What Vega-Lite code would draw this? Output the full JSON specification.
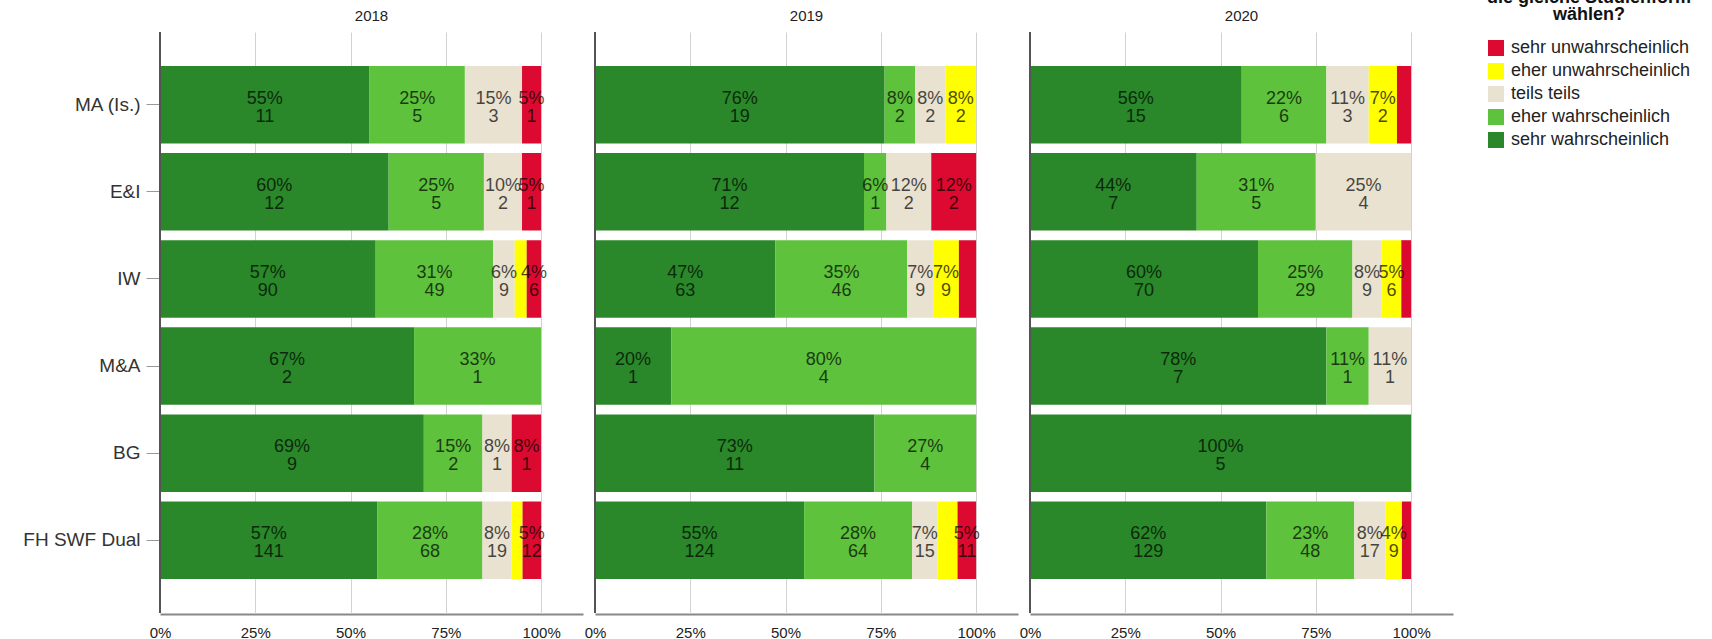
{
  "$schema": "https://vega.github.io/schema/vega-lite/v6.json",
  "autosize": {"type": "pad"},
  "padding": {"left": 22, "top": -11, "right": 0, "bottom": 0},
  "config": {
    "font": "Liberation Sans",
    "view": {"stroke": null}
  },
  "data": {"values": [
    {"y": "2018", "p": "MA (Is.)", "r": "sehr wahrscheinlich", "c": 1, "n": 11, "pct": "55%"},
    {"y": "2018", "p": "MA (Is.)", "r": "eher wahrscheinlich", "c": 2, "n": 5, "pct": "25%"},
    {"y": "2018", "p": "MA (Is.)", "r": "teils teils", "c": 3, "n": 3, "pct": "15%"},
    {"y": "2018", "p": "MA (Is.)", "r": "sehr unwahrscheinlich", "c": 5, "n": 1, "pct": "5%"},
    {"y": "2018", "p": "E&I", "r": "sehr wahrscheinlich", "c": 1, "n": 12, "pct": "60%"},
    {"y": "2018", "p": "E&I", "r": "eher wahrscheinlich", "c": 2, "n": 5, "pct": "25%"},
    {"y": "2018", "p": "E&I", "r": "teils teils", "c": 3, "n": 2, "pct": "10%"},
    {"y": "2018", "p": "E&I", "r": "sehr unwahrscheinlich", "c": 5, "n": 1, "pct": "5%"},
    {"y": "2018", "p": "IW", "r": "sehr wahrscheinlich", "c": 1, "n": 90, "pct": "57%"},
    {"y": "2018", "p": "IW", "r": "eher wahrscheinlich", "c": 2, "n": 49, "pct": "31%"},
    {"y": "2018", "p": "IW", "r": "teils teils", "c": 3, "n": 9, "pct": "6%"},
    {"y": "2018", "p": "IW", "r": "eher unwahrscheinlich", "c": 4, "n": 5, "pct": null},
    {"y": "2018", "p": "IW", "r": "sehr unwahrscheinlich", "c": 5, "n": 6, "pct": "4%"},
    {"y": "2018", "p": "M&A", "r": "sehr wahrscheinlich", "c": 1, "n": 2, "pct": "67%"},
    {"y": "2018", "p": "M&A", "r": "eher wahrscheinlich", "c": 2, "n": 1, "pct": "33%"},
    {"y": "2018", "p": "BG", "r": "sehr wahrscheinlich", "c": 1, "n": 9, "pct": "69%"},
    {"y": "2018", "p": "BG", "r": "eher wahrscheinlich", "c": 2, "n": 2, "pct": "15%"},
    {"y": "2018", "p": "BG", "r": "teils teils", "c": 3, "n": 1, "pct": "8%"},
    {"y": "2018", "p": "BG", "r": "sehr unwahrscheinlich", "c": 5, "n": 1, "pct": "8%"},
    {"y": "2018", "p": "FH SWF Dual", "r": "sehr wahrscheinlich", "c": 1, "n": 141, "pct": "57%"},
    {"y": "2018", "p": "FH SWF Dual", "r": "eher wahrscheinlich", "c": 2, "n": 68, "pct": "28%"},
    {"y": "2018", "p": "FH SWF Dual", "r": "teils teils", "c": 3, "n": 19, "pct": "8%"},
    {"y": "2018", "p": "FH SWF Dual", "r": "eher unwahrscheinlich", "c": 4, "n": 7, "pct": null},
    {"y": "2018", "p": "FH SWF Dual", "r": "sehr unwahrscheinlich", "c": 5, "n": 12, "pct": "5%"},

    {"y": "2019", "p": "MA (Is.)", "r": "sehr wahrscheinlich", "c": 1, "n": 19, "pct": "76%"},
    {"y": "2019", "p": "MA (Is.)", "r": "eher wahrscheinlich", "c": 2, "n": 2, "pct": "8%"},
    {"y": "2019", "p": "MA (Is.)", "r": "teils teils", "c": 3, "n": 2, "pct": "8%"},
    {"y": "2019", "p": "MA (Is.)", "r": "eher unwahrscheinlich", "c": 4, "n": 2, "pct": "8%"},
    {"y": "2019", "p": "E&I", "r": "sehr wahrscheinlich", "c": 1, "n": 12, "pct": "71%"},
    {"y": "2019", "p": "E&I", "r": "eher wahrscheinlich", "c": 2, "n": 1, "pct": "6%"},
    {"y": "2019", "p": "E&I", "r": "teils teils", "c": 3, "n": 2, "pct": "12%"},
    {"y": "2019", "p": "E&I", "r": "sehr unwahrscheinlich", "c": 5, "n": 2, "pct": "12%"},
    {"y": "2019", "p": "IW", "r": "sehr wahrscheinlich", "c": 1, "n": 63, "pct": "47%"},
    {"y": "2019", "p": "IW", "r": "eher wahrscheinlich", "c": 2, "n": 46, "pct": "35%"},
    {"y": "2019", "p": "IW", "r": "teils teils", "c": 3, "n": 9, "pct": "7%"},
    {"y": "2019", "p": "IW", "r": "eher unwahrscheinlich", "c": 4, "n": 9, "pct": "7%"},
    {"y": "2019", "p": "IW", "r": "sehr unwahrscheinlich", "c": 5, "n": 6, "pct": null},
    {"y": "2019", "p": "M&A", "r": "sehr wahrscheinlich", "c": 1, "n": 1, "pct": "20%"},
    {"y": "2019", "p": "M&A", "r": "eher wahrscheinlich", "c": 2, "n": 4, "pct": "80%"},
    {"y": "2019", "p": "BG", "r": "sehr wahrscheinlich", "c": 1, "n": 11, "pct": "73%"},
    {"y": "2019", "p": "BG", "r": "eher wahrscheinlich", "c": 2, "n": 4, "pct": "27%"},
    {"y": "2019", "p": "FH SWF Dual", "r": "sehr wahrscheinlich", "c": 1, "n": 124, "pct": "55%"},
    {"y": "2019", "p": "FH SWF Dual", "r": "eher wahrscheinlich", "c": 2, "n": 64, "pct": "28%"},
    {"y": "2019", "p": "FH SWF Dual", "r": "teils teils", "c": 3, "n": 15, "pct": "7%"},
    {"y": "2019", "p": "FH SWF Dual", "r": "eher unwahrscheinlich", "c": 4, "n": 12, "pct": null},
    {"y": "2019", "p": "FH SWF Dual", "r": "sehr unwahrscheinlich", "c": 5, "n": 11, "pct": "5%"},

    {"y": "2020", "p": "MA (Is.)", "r": "sehr wahrscheinlich", "c": 1, "n": 15, "pct": "56%"},
    {"y": "2020", "p": "MA (Is.)", "r": "eher wahrscheinlich", "c": 2, "n": 6, "pct": "22%"},
    {"y": "2020", "p": "MA (Is.)", "r": "teils teils", "c": 3, "n": 3, "pct": "11%"},
    {"y": "2020", "p": "MA (Is.)", "r": "eher unwahrscheinlich", "c": 4, "n": 2, "pct": "7%"},
    {"y": "2020", "p": "MA (Is.)", "r": "sehr unwahrscheinlich", "c": 5, "n": 1, "pct": null},
    {"y": "2020", "p": "E&I", "r": "sehr wahrscheinlich", "c": 1, "n": 7, "pct": "44%"},
    {"y": "2020", "p": "E&I", "r": "eher wahrscheinlich", "c": 2, "n": 5, "pct": "31%"},
    {"y": "2020", "p": "E&I", "r": "teils teils", "c": 3, "n": 4, "pct": "25%"},
    {"y": "2020", "p": "IW", "r": "sehr wahrscheinlich", "c": 1, "n": 70, "pct": "60%"},
    {"y": "2020", "p": "IW", "r": "eher wahrscheinlich", "c": 2, "n": 29, "pct": "25%"},
    {"y": "2020", "p": "IW", "r": "teils teils", "c": 3, "n": 9, "pct": "8%"},
    {"y": "2020", "p": "IW", "r": "eher unwahrscheinlich", "c": 4, "n": 6, "pct": "5%"},
    {"y": "2020", "p": "IW", "r": "sehr unwahrscheinlich", "c": 5, "n": 3, "pct": null},
    {"y": "2020", "p": "M&A", "r": "sehr wahrscheinlich", "c": 1, "n": 7, "pct": "78%"},
    {"y": "2020", "p": "M&A", "r": "eher wahrscheinlich", "c": 2, "n": 1, "pct": "11%"},
    {"y": "2020", "p": "M&A", "r": "teils teils", "c": 3, "n": 1, "pct": "11%"},
    {"y": "2020", "p": "BG", "r": "sehr wahrscheinlich", "c": 1, "n": 5, "pct": "100%"},
    {"y": "2020", "p": "FH SWF Dual", "r": "sehr wahrscheinlich", "c": 1, "n": 129, "pct": "62%"},
    {"y": "2020", "p": "FH SWF Dual", "r": "eher wahrscheinlich", "c": 2, "n": 48, "pct": "23%"},
    {"y": "2020", "p": "FH SWF Dual", "r": "teils teils", "c": 3, "n": 17, "pct": "8%"},
    {"y": "2020", "p": "FH SWF Dual", "r": "eher unwahrscheinlich", "c": 4, "n": 9, "pct": "4%"},
    {"y": "2020", "p": "FH SWF Dual", "r": "sehr unwahrscheinlich", "c": 5, "n": 5, "pct": null}
  ]},
  "facet": {
    "column": {
      "field": "y", "type": "ordinal", "title": null,
      "header": {"labelFontSize": 15, "labelColor": "#222", "labelFont": "Liberation Sans", "labelPadding": 7}
    }
  },
  "spacing": {"column": 11},
  "spec": {
    "width": 423,
    "height": 581,
    "layer": [
      {
        "mark": {"type": "bar"},
        "encoding": {
          "y": {
            "field": "p", "type": "nominal",
            "sort": ["MA (Is.)", "E&I", "IW", "M&A", "BG", "FH SWF Dual"],
            "scale": {"paddingInner": 0.11, "paddingOuter": 0.39},
            "axis": {"title": null, "labelFontSize": 19, "labelColor": "#333", "tickSize": 13, "tickColor": "#999", "labelPadding": 6, "domain": false, "labelLimit": 300}
          },
          "x": {
            "field": "n", "type": "quantitative", "stack": "normalize",
            "scale": {"domain": [0, 1.11], "nice": false},
            "axis": {"title": null, "values": [0, 0.25, 0.5, 0.75, 1], "format": ".0%", "grid": true, "gridColor": "#d2d2d2", "ticks": false, "labelFontSize": 15, "labelColor": "#222", "domainColor": "#888", "domainWidth": 2, "labelPadding": 11, "labelFlush": false}
          },
          "color": {
            "field": "r", "type": "nominal",
            "scale": {
              "domain": ["sehr unwahrscheinlich", "eher unwahrscheinlich", "teils teils", "eher wahrscheinlich", "sehr wahrscheinlich"],
              "range": ["#dc0a30", "#ffff00", "#e9e2d0", "#5ec23c", "#2a882a"]
            },
            "legend": {
              "orient": "none", "legendX": 1327, "legendY": -43,
              "title": ["die gleiche Studienform", "wählen?"],
              "titleFontSize": 18, "titleFontWeight": "bold", "titleColor": "#111", "titleAnchor": "middle", "titleAlign": "center", "titleLineHeight": 17, "titlePadding": 15, "titleLimit": 400,
              "symbolType": "square", "symbolSize": 256, "symbolStrokeWidth": 0, "symbolOpacity": 1,
              "labelFontSize": 18, "labelColor": "#222", "labelOffset": 6, "rowPadding": 5, "labelLimit": 400
            }
          },
          "order": {"field": "c", "type": "quantitative"}
        }
      },
      {
        "mark": {"type": "text", "fontSize": 18, "color": "#000", "opacity": 0.7, "dy": -6, "baseline": "middle"},
        "encoding": {
          "y": {"field": "p", "type": "nominal", "sort": ["MA (Is.)", "E&I", "IW", "M&A", "BG", "FH SWF Dual"]},
          "x": {"field": "n", "type": "quantitative", "stack": "normalize", "bandPosition": 0.5},
          "detail": {"field": "r", "type": "nominal"},
          "order": {"field": "c", "type": "quantitative"},
          "text": {"condition": {"test": "datum.pct == null", "value": ""}, "field": "pct", "type": "nominal"}
        }
      },
      {
        "mark": {"type": "text", "fontSize": 18, "color": "#000", "opacity": 0.7, "dy": 12, "baseline": "middle"},
        "encoding": {
          "y": {"field": "p", "type": "nominal", "sort": ["MA (Is.)", "E&I", "IW", "M&A", "BG", "FH SWF Dual"]},
          "x": {"field": "n", "type": "quantitative", "stack": "normalize", "bandPosition": 0.5},
          "detail": {"field": "r", "type": "nominal"},
          "order": {"field": "c", "type": "quantitative"},
          "text": {"condition": {"test": "datum.pct == null", "value": ""}, "field": "n", "type": "quantitative"}
        }
      },
      {
        "mark": {"type": "rule", "color": "#555", "strokeWidth": 1},
        "encoding": {"x": {"datum": 0, "type": "quantitative"}}
      }
    ]
  }
}
